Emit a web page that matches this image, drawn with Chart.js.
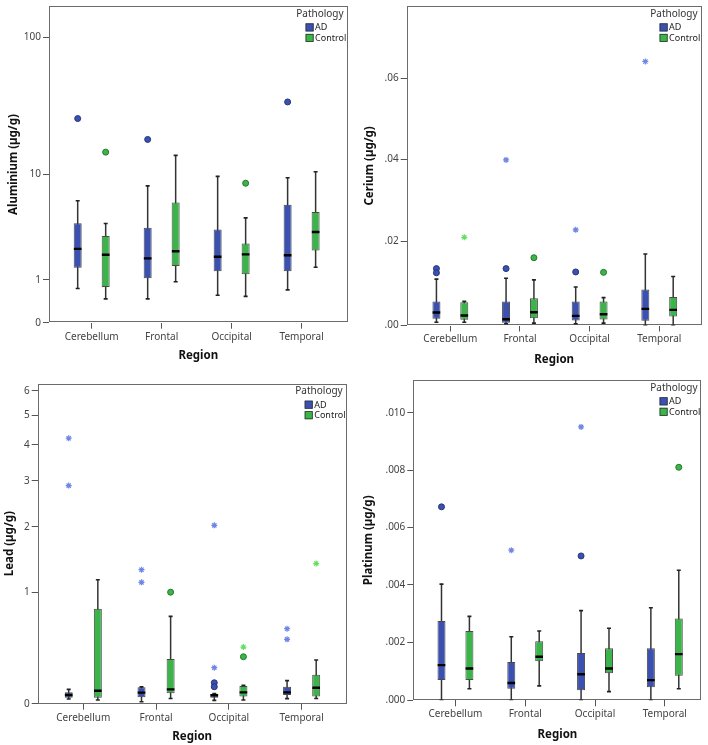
<!DOCTYPE html>
<html>
<head>
<meta charset="utf-8">
<script src="https://cdn.jsdelivr.net/npm/chart.js@4.4.1/dist/chart.umd.min.js"></script>
<style>
  body { margin: 0; background: #fff; }
  #wrap { position: relative; width: 708px; height: 745px; }
  canvas { position: absolute; }
</style>
</head>
<body>
<div id="wrap">
  <canvas id="al" width="354" height="372" style="left:0;top:0"></canvas>
  <canvas id="ce" width="354" height="372" style="left:354px;top:0"></canvas>
  <canvas id="pb" width="354" height="373" style="left:0;top:372px"></canvas>
  <canvas id="pt" width="354" height="373" style="left:354px;top:372px"></canvas>
</div>
<script>
// Metal concentrations by brain region, AD vs control (SPSS-style boxplots)

const regions = ['Cerebellum', 'Frontal', 'Occipital', 'Temporal'];
const groups = ['AD', 'Control'];

// boxes per region: [lower whisker, Q1, median, Q3, upper whisker]
const aluminiumTicks = [0, 1, 10, 100];
const aluminiumTickLabels = ['0', '1', '10', '100'];
const aluminiumAD = [
  [0.74, 1.43, 2.30, 3.99, 6.2],
  [0.47, 1.05, 1.83, 3.65, 8.15],
  [0.56, 1.30, 1.91, 3.52, 9.68],
  [0.70, 1.30, 1.98, 5.75, 9.45]
];
const aluminiumControl = [
  [0.47, 0.78, 2.00, 3.07, 3.98],
  [0.94, 1.50, 2.18, 6.00, 14.0],
  [0.53, 1.19, 2.02, 2.60, 4.45],
  [1.45, 2.22, 3.34, 5.00, 10.5]
];
const aluminiumADOutliers = [[26.2], [18.4], [], [34.6]];
const aluminiumControlOutliers = [[14.8], [], [8.55], []];
const aluminiumADExtremes = [[], [], [], []];
const aluminiumControlExtremes = [[], [], [], []];

const ceriumTicks = [0, 0.02, 0.04, 0.06];
const ceriumTickLabels = ['.00', '.02', '.04', '.06'];
const ceriumAD = [
  [0.00078, 0.00157, 0.00306, 0.00565, 0.0110],
  [0.0004, 0.00063, 0.00148, 0.00565, 0.0112],
  [0.0004, 0.00118, 0.00228, 0.00565, 0.0091],
  [0.0, 0.0011, 0.00393, 0.0085, 0.0170]
];
const ceriumControl = [
  [0.00078, 0.00133, 0.00235, 0.0055, 0.0057],
  [0.00055, 0.00173, 0.00314, 0.00643, 0.0108],
  [0.00055, 0.00141, 0.00266, 0.00565, 0.0066],
  [0.0, 0.00212, 0.00369, 0.00675, 0.0116]
];
const ceriumADOutliers = [[0.0135, 0.0125], [0.0135], [0.0127], []];
const ceriumControlOutliers = [[], [0.0161], [0.0126], []];
const ceriumADExtremes = [[], [0.0398], [0.0228], [0.0642]];
const ceriumControlExtremes = [[0.0210], [], [], []];

const leadTicks = [0, 1, 2, 3, 4, 5, 6];
const leadTickLabels = ['0', '1', '2', '3', '4', '5', '6'];
const leadAD = [
  [0.030, 0.038, 0.056, 0.073, 0.093],
  [0.0125, 0.041, 0.071, 0.107, 0.110],
  [0.021, 0.038, 0.054, 0.062, 0.065],
  [0.032, 0.056, 0.073, 0.111, 0.154]
];
const leadControl = [
  [0.023, 0.038, 0.084, 0.805, 1.16],
  [0.033, 0.067, 0.093, 0.320, 0.721],
  [0.023, 0.045, 0.073, 0.116, 0.121],
  [0.033, 0.045, 0.104, 0.198, 0.312]
];
const leadADOutliers = [[], [], [0.139, 0.111], []];
const leadControlOutliers = [[], [1.00], [0.339], []];
const leadADExtremes = [[4.21, 2.88], [1.30, 1.126], [2.03, 0.251], [0.594, 0.492]];
const leadControlExtremes = [[], [], [0.422], [1.39]];

const platinumTicks = [0, 0.002, 0.004, 0.006, 0.008, 0.010];
const platinumTickLabels = ['.000', '.002', '.004', '.006', '.008', '.010'];
const platinumAD = [
  [0, 0.0007, 0.00122, 0.00275, 0.00403],
  [0, 0.0004, 0.0006, 0.00133, 0.0022],
  [0, 0.00035, 0.0009, 0.00164, 0.00311],
  [0, 0.00045, 0.0007, 0.0018, 0.00321]
];
const platinumControl = [
  [0.0004, 0.0007, 0.0011, 0.0024, 0.00291],
  [0.0005, 0.00135, 0.00151, 0.00205, 0.0024],
  [0.0003, 0.00094, 0.0011, 0.0018, 0.0025],
  [0.0004, 0.00085, 0.0016, 0.00284, 0.00451]
];
const platinumADOutliers = [[0.00672], [], [0.00501], []];
const platinumControlOutliers = [[], [], [], [0.0081]];
const platinumADExtremes = [[], [0.00521], [0.00951], []];
const platinumControlExtremes = [[], [], [], []];

const boxColors = ['#3b51b1', '#3bb54a'];
const dotEdges = ['#26357a', '#227a2c'];
const starColors = ['#6f86e6', '#62e062'];

Chart.defaults.font.family = '"Noto Sans", sans-serif';

// SPSS "safe log" axis: position ~ log10(1 + v)
class Log1pScale extends Chart.LinearScale {
  static id = 'log1p';
  static defaults = Chart.LinearScale.defaults;
  getPixelForValue(value) {
    const t0 = Math.log10(1 + this.min), t1 = Math.log10(1 + this.max);
    return this.getPixelForDecimal((Math.log10(1 + value) - t0) / (t1 - t0));
  }
  getValueForPixel(pixel) {
    const t0 = Math.log10(1 + this.min), t1 = Math.log10(1 + this.max);
    return Math.pow(10, t0 + this.getDecimalForPixel(pixel) * (t1 - t0)) - 1;
  }
}
Chart.register(Log1pScale);

const framePlugin = {
  id: 'frame',
  beforeDatasetsDraw(chart) {
    const { ctx, chartArea: a } = chart;
    ctx.save();
    ctx.strokeStyle = '#6b6b6b';
    ctx.lineWidth = 1;
    ctx.strokeRect(Math.round(a.left) + 0.5, Math.round(a.top) + 0.5, Math.round(a.width) - 1, Math.round(a.height) - 1);
    ctx.restore();
  }
};

const legendPlugin = {
  id: 'pathologyLegend',
  afterDraw(chart) {
    const { ctx, chartArea: a } = chart;
    ctx.save();
    ctx.textBaseline = 'middle';
    ctx.font = '10px "Noto Sans"';
    ctx.fillStyle = '#333';
    ctx.textAlign = 'right';
    ctx.fillText('Pathology', a.right - 4, a.top + 7.5);
    groups.forEach((g, i) => {
      const x = a.right - 42, y = a.top + 21 + i * 10.5;
      ctx.fillStyle = boxColors[i];
      ctx.fillRect(x, y - 4, 8, 8);
      ctx.strokeStyle = '#333';
      ctx.lineWidth = 0.8;
      ctx.strokeRect(x + 0.4, y - 3.6, 7.2, 7.2);
      ctx.fillStyle = '#222';
      ctx.textAlign = 'left';
      ctx.font = '9px "Noto Sans"';
      ctx.fillText(g, x + 9.5, y + 0.5);
    });
    ctx.restore();
  }
};

function pts(lists, dx) {
  return lists.flatMap((vals, i) => vals.map(v => ({ x: i + dx, y: v })));
}

function buildDatasets(ad, ctl, adOut, ctlOut, adExt, ctlExt) {
  const ds = [];
  const whisk = [], caps = [], meds = [];
  [[ad, adOut, adExt, -0.2], [ctl, ctlOut, ctlExt, 0.2]].forEach(([boxes, out, ext, dx], gi) => {
    boxes.forEach((b, i) => {
      whisk.push({ x: i + dx, y: [b[0], b[4]] });
      caps.push({ x: i + dx, y: b[0] }, { x: i + dx, y: b[4] });
      meds.push({ x: i + dx, y: b[2] });
    });
    ds.push({
      type: 'bar', label: groups[gi],
      data: boxes.map((b, i) => ({ x: i + dx, y: [b[1], b[3]] })),
      backgroundColor: boxColors[gi], borderColor: '#4a4a4a', borderWidth: 1,
      borderSkipped: false, grouped: false, maxBarThickness: 8, order: 4
    });
    ds.push({
      type: 'scatter', data: pts(out, dx), pointStyle: 'circle', pointRadius: 3,
      pointBackgroundColor: boxColors[gi], pointBorderColor: dotEdges[gi], pointBorderWidth: 1, order: 1
    });
    ds.push({
      type: 'scatter', data: pts(ext, dx), pointStyle: 'star', pointRadius: 3,
      pointBorderColor: starColors[gi], pointBorderWidth: 1.2, order: 1
    });
  });
  ds.push({ type: 'bar', data: whisk, backgroundColor: '#333', grouped: false, maxBarThickness: 1.5, order: 5 });
  ds.push({ type: 'scatter', data: caps, pointStyle: 'line', pointRadius: 2, pointBorderColor: '#222', pointBorderWidth: 1.6, order: 3 });
  ds.push({ type: 'scatter', data: meds, pointStyle: 'line', pointRadius: 3.8, pointBorderColor: '#000', pointBorderWidth: 2.4, order: 2 });
  return ds;
}

function makeChart(id, cfg, datasets) {
  return new Chart(document.getElementById(id), {
    type: 'bar',
    data: { datasets },
    options: {
      responsive: false,
      animation: false,
      events: [],
      layout: { padding: { top: cfg.top, right: cfg.right, bottom: 0, left: 0 } },
      plugins: { legend: { display: false }, tooltip: { enabled: false } },
      scales: {
        x: {
          type: 'linear', min: cfg.xMin, max: cfg.xMax, offset: false,
          grid: { display: true, drawOnChartArea: false, drawTicks: true, tickLength: 6, tickColor: '#555', offset: false },
          border: { display: false },
          afterBuildTicks: s => { s.ticks = regions.map((r, i) => ({ value: i })); },
          ticks: { autoSkip: false, maxRotation: 0, padding: 2, color: '#444', font: { size: 10 }, callback: (v, i) => regions[i] },
          title: { display: true, text: 'Region', color: '#111', font: { size: 11.5, weight: 'bold' }, padding: { top: 0, bottom: cfg.xTitlePad } },
          afterFit: s => { s.height = cfg.xHeight; s.paddingLeft = 0; s.paddingRight = 0; }
        },
        y: {
          type: 'log1p', min: 0, max: cfg.yMax,
          grid: { display: true, drawOnChartArea: false, drawTicks: true, tickLength: 6, tickColor: '#555' },
          border: { display: false },
          afterBuildTicks: s => { s.ticks = cfg.ticks.map(v => ({ value: v })); },
          ticks: { autoSkip: false, padding: 2, color: '#444', font: { size: 10 }, callback: (v, i) => cfg.labels[i] },
          title: { display: true, text: cfg.title, color: '#111', font: { size: 11.5, weight: 'bold' }, padding: { top: cfg.yTitlePad, bottom: 0 } },
          afterFit: s => { s.width = cfg.yWidth; s.paddingTop = 0; s.paddingBottom = 0; }
        }
      }
    },
    plugins: [framePlugin, legendPlugin]
  });
}

makeChart('al', {
  top: 3, right: 6.3, yWidth: 49, xHeight: 49.3, xMin: -0.61, xMax: 3.657, yMax: 166,
  xTitlePad: 9, yTitlePad: 6.4, title: 'Aluminium (µg/g)', ticks: aluminiumTicks, labels: aluminiumTickLabels
}, buildDatasets(aluminiumAD, aluminiumControl, aluminiumADOutliers, aluminiumControlOutliers, aluminiumADExtremes, aluminiumControlExtremes));

makeChart('ce', {
  top: 5.5, right: 4, yWidth: 52.7, xHeight: 46.5, xMin: -0.627, xMax: 3.608, yMax: 0.0781,
  xTitlePad: 5.1, yTitlePad: 9.1, title: 'Cerium (µg/g)', ticks: ceriumTicks, labels: ceriumTickLabels
}, buildDatasets(ceriumAD, ceriumControl, ceriumADOutliers, ceriumControlOutliers, ceriumADExtremes, ceriumControlExtremes));

makeChart('pb', {
  top: 11.7, right: 7.3, yWidth: 37.7, xHeight: 41.3, xMin: -0.626, xMax: 3.619, yMax: 6.31,
  xTitlePad: 1.1, yTitlePad: 3.1, title: 'Lead (µg/g)', ticks: leadTicks, labels: leadTickLabels
}, buildDatasets(leadAD, leadControl, leadADOutliers, leadControlOutliers, leadADExtremes, leadControlExtremes));

makeChart('pt', {
  top: 8.3, right: 4.7, yWidth: 59.3, xHeight: 44.7, xMin: -0.604, xMax: 3.527, yMax: 0.01114,
  xTitlePad: 3.4, yTitlePad: 8.1, title: 'Platinum (µg/g)', ticks: platinumTicks, labels: platinumTickLabels
}, buildDatasets(platinumAD, platinumControl, platinumADOutliers, platinumControlOutliers, platinumADExtremes, platinumControlExtremes));
</script>
</body>
</html>
